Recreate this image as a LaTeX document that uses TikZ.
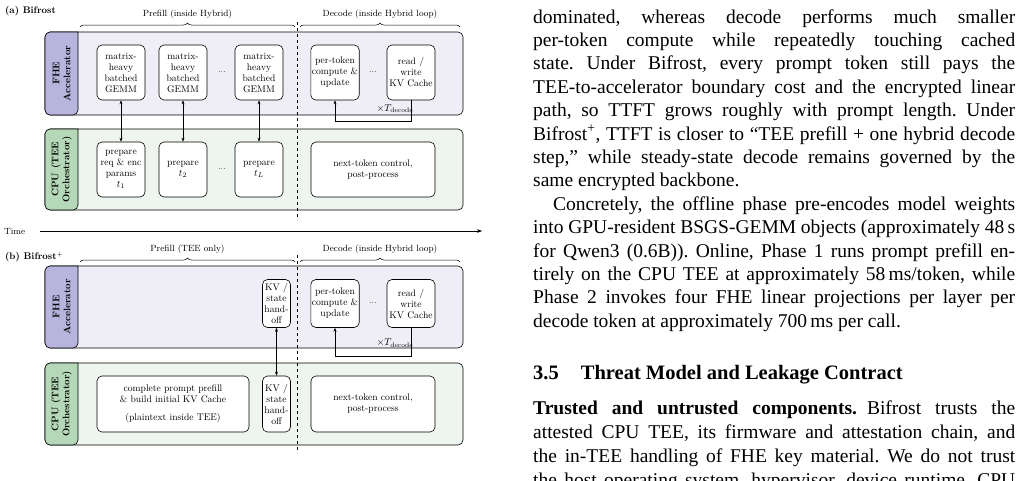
\documentclass[tikz,border=0pt]{standalone}
\usepackage{fontspec}
\newfontfamily\bodyfont{Liberation Serif}
\usetikzlibrary{decorations.pathreplacing,arrows.meta}
\newcommand{\tline}[1]{\makebox[482pt][s]{#1}}
\frenchspacing
\begin{document}
\begin{tikzpicture}[x=1pt,y=-1pt,
  box/.style={draw,fill=white,rounded corners=5,align=center,inner sep=1pt,
    font=\fontsize{9.6}{11}\selectfont,line width=0.6pt},
  lane/.style={draw,rounded corners=5,line width=0.6pt},
  tab/.style={draw,line width=0.6pt},
  tabtxt/.style={rotate=90,align=center,font=\bfseries\fontsize{9.6}{11}\selectfont},
  hdr/.style={font=\fontsize{9}{10}\selectfont},
  brc/.style={decorate,decoration={brace,amplitude=4pt},line width=0.5pt},
  link/.style={{Stealth[length=4pt]}-{Stealth[length=4pt]},line width=0.6pt},
  loop/.style={-{Stealth[length=4pt]},line width=0.6pt},
  dots/.style={font=\fontsize{9}{10}\selectfont},
  body/.style={anchor=base west,inner sep=0,font=\bodyfont\fontsize{19.5}{24}\selectfont}]
\useasboundingbox (0,0) rectangle (1020,480);
\definecolor{fhebg}{HTML}{EFEEF6}\definecolor{fhetab}{HTML}{B7B4DE}
\definecolor{cpubg}{HTML}{EEF5EF}\definecolor{cputab}{HTML}{B5D9B8}

% ===== (a) =====
\node[anchor=west,font=\bfseries\fontsize{9.6}{11}\selectfont,inner sep=0] (ta) at (5,11) {(a) Bifrost};
\draw[brc] (80,27) -- (295,27) node[midway,above=5pt,hdr] (pa) {Prefill (inside Hybrid)};
\draw[brc] (300,27) -- (460,27) node[midway,above=5pt,hdr] (da) {Decode (inside Hybrid loop)};
\draw[lane,fill=fhebg] (45,32) rectangle (463,115);
\draw[tab,fill=fhetab,rounded corners=5] (78,32) -- (45,32) -- (45,115) -- (78,115) [sharp corners] -- cycle;
\node[tabtxt] (fa) at (61.5,73.5) {FHE\\Accelerator};
\draw[lane,fill=cpubg] (45,129) rectangle (463,210);
\draw[tab,fill=cputab,rounded corners=5] (78,129) -- (45,129) -- (45,210) -- (78,210) [sharp corners] -- cycle;
\node[tabtxt] (ca) at (61.5,169.5) {CPU (TEE\\Orchestrator)};

\foreach \n/\x in {g1/121,g2/183,g3/259}
  \node[box,minimum width=48,minimum height=55] (\n) at (\x,72.5) {matrix-\\heavy\\batched\\GEMM};
\node[dots] (d1) at (222,72.5) {...};
\node[box,minimum width=48,minimum height=55] (pt) at (335,72.5) {per-token\\compute \&\\update};
\node[dots] (d2) at (373,72.5) {...};
\node[box,minimum width=48,minimum height=55] (rw) at (411,72.5) {read /\\write\\KV Cache};

\node[box,minimum width=48,minimum height=55] (p1) at (121,169.5) {prepare\\req \& enc\\params\\$t_1$};
\node[box,minimum width=48,minimum height=55] (p2) at (183,169.5) {prepare\\$t_2$};
\node[dots] (d3) at (222,169.5) {...};
\node[box,minimum width=48,minimum height=55] (p3) at (259,169.5) {prepare\\$t_L$};
\node[box,minimum width=124,minimum height=55] (nt) at (373,169.5) {next-token control,\\post-process};

\draw[link] (g1) -- (p1);
\draw[link] (g2) -- (p2);
\draw[link] (g3) -- (p3);
\coordinate (la1) at (411,121);\coordinate (la2) at (335,121);
\draw[loop] (rw.south) -- (la1) -- (la2) -- (pt.south);
\node[font=\fontsize{9.6}{11}\selectfont,inner sep=1pt] (xa) at (395,108.5) {$\times T_{\mathrm{decode}}$};

\draw[dashed,line width=0.5pt] (297,22) -- (297,220);
\node[anchor=west,font=\fontsize{9}{10}\selectfont,inner sep=0] (time) at (4,231) {Time};
\coordinate (t0) at (40,231);\coordinate (t1) at (482,231);
\draw[-{Stealth[length=5pt]},line width=0.7pt] (t0) -- (t1);

% ===== (b) =====
\node[anchor=west,font=\bfseries\fontsize{9.6}{11}\selectfont,inner sep=0] (tb) at (5,257) {(b) Bifrost$^{+}$};
\draw[brc] (80,262) -- (295,262) node[midway,above=5pt,hdr] (pb) {Prefill (TEE only)};
\draw[brc] (300,262) -- (460,262) node[midway,above=5pt,hdr] (db) {Decode (inside Hybrid loop)};
\draw[lane,fill=fhebg] (45,266) rectangle (463,348);
\draw[tab,fill=fhetab,rounded corners=5] (78,266) -- (45,266) -- (45,348) -- (78,348) [sharp corners] -- cycle;
\node[tabtxt] (fb) at (61.5,307) {FHE\\Accelerator};
\draw[lane,fill=cpubg] (45,363) rectangle (463,445);
\draw[tab,fill=cputab,rounded corners=5] (78,363) -- (45,363) -- (45,445) -- (78,445) [sharp corners] -- cycle;
\node[tabtxt] (cb) at (61.5,404) {CPU (TEE\\Orchestrator)};

\node[box,minimum width=28,minimum height=48,inner sep=0.5pt] (kf) at (276.5,303.5) {KV /\\state\\hand-\\off};
\node[box,minimum width=48,minimum height=48] (ptb) at (335,303.5) {per-token\\compute \&\\update};
\node[dots] (d4) at (373,303.5) {...};
\node[box,minimum width=48,minimum height=48] (rwb) at (411,303.5) {read /\\write\\KV Cache};
\node[box,minimum width=152,minimum height=56] (cp) at (173,404) {complete prompt prefill\\\& build initial KV Cache\\[7pt](plaintext inside TEE)};
\node[box,minimum width=28,minimum height=56,inner sep=0.5pt] (kc) at (276.5,404) {KV /\\state\\hand-\\off};
\node[box,minimum width=124,minimum height=56] (ntb) at (373,404) {next-token control,\\post-process};
\draw[link] (kf) -- (kc);
\coordinate (lb1) at (411,356);\coordinate (lb2) at (335,356);
\draw[loop] (rwb.south) -- (lb1) -- (lb2) -- (ptb.south);
\node[font=\fontsize{9.6}{11}\selectfont,inner sep=1pt] (xb) at (395,343) {$\times T_{\mathrm{decode}}$};
\draw[dashed,line width=0.5pt] (297,255) -- (297,453);

% ===== body text =====
\node[body] (l0) at (533,23.0) {\tline{dominated, whereas decode performs much smaller}};
\node[body] (l1) at (533,46.4) {\tline{per-token compute while repeatedly touching cached}};
\node[body] (l2) at (533,69.8) {\tline{state. Under Bifrost, every prompt token still pays the}};
\node[body] (l3) at (533,93.2) {\tline{TEE-to-accelerator boundary cost and the encrypted linear}};
\node[body] (l4) at (533,116.6) {\tline{path, so TTFT grows roughly with prompt length. Under}};
\node[body] (l5) at (533,140.0) {\tline{Bifrost\textsuperscript{+}, TTFT is closer to “TEE prefill + one hybrid decode}};
\node[body] (l6) at (533,163.4) {\tline{step,” while steady-state decode remains governed by the}};
\node[body] (l7) at (533,186.8) {same encrypted backbone.};
\node[body] (l8) at (533,210.2) {\tline{\hspace*{20pt}Concretely, the offline phase pre-encodes model weights}};
\node[body] (l9) at (533,233.6) {\tline{into GPU-resident BSGS-GEMM objects (approximately 48\,s}};
\node[body] (l10) at (533,257.0) {\tline{for Qwen3 (0.6B)). Online, Phase 1 runs prompt prefill en-}};
\node[body] (l11) at (533,280.4) {\tline{tirely on the CPU TEE at approximately 58\,ms/token, while}};
\node[body] (l12) at (533,303.8) {\tline{Phase 2 invokes four FHE linear projections per layer per}};
\node[body] (l13) at (533,327.2) {decode token at approximately 700\,ms per call.};
\node[body,font=\bodyfont\bfseries\fontsize{20.5}{24}\selectfont] (h) at (533,379) {3.5\hspace{22pt}Threat Model and Leakage Contract};
\node[body] (m0) at (533,414) {\tline{\textbf{Trusted and untrusted components.}\hspace{10pt}Bifrost trusts the}};
\node[body] (m1) at (533,438) {\tline{attested CPU TEE, its firmware and attestation chain, and}};
\node[body] (m2) at (533,462) {\tline{the in-TEE handling of FHE key material. We do not trust}};
\node[body] (m3) at (533,486) {\tline{the host operating system, hypervisor, device runtime, CPU}};
\end{tikzpicture}
\end{document}
